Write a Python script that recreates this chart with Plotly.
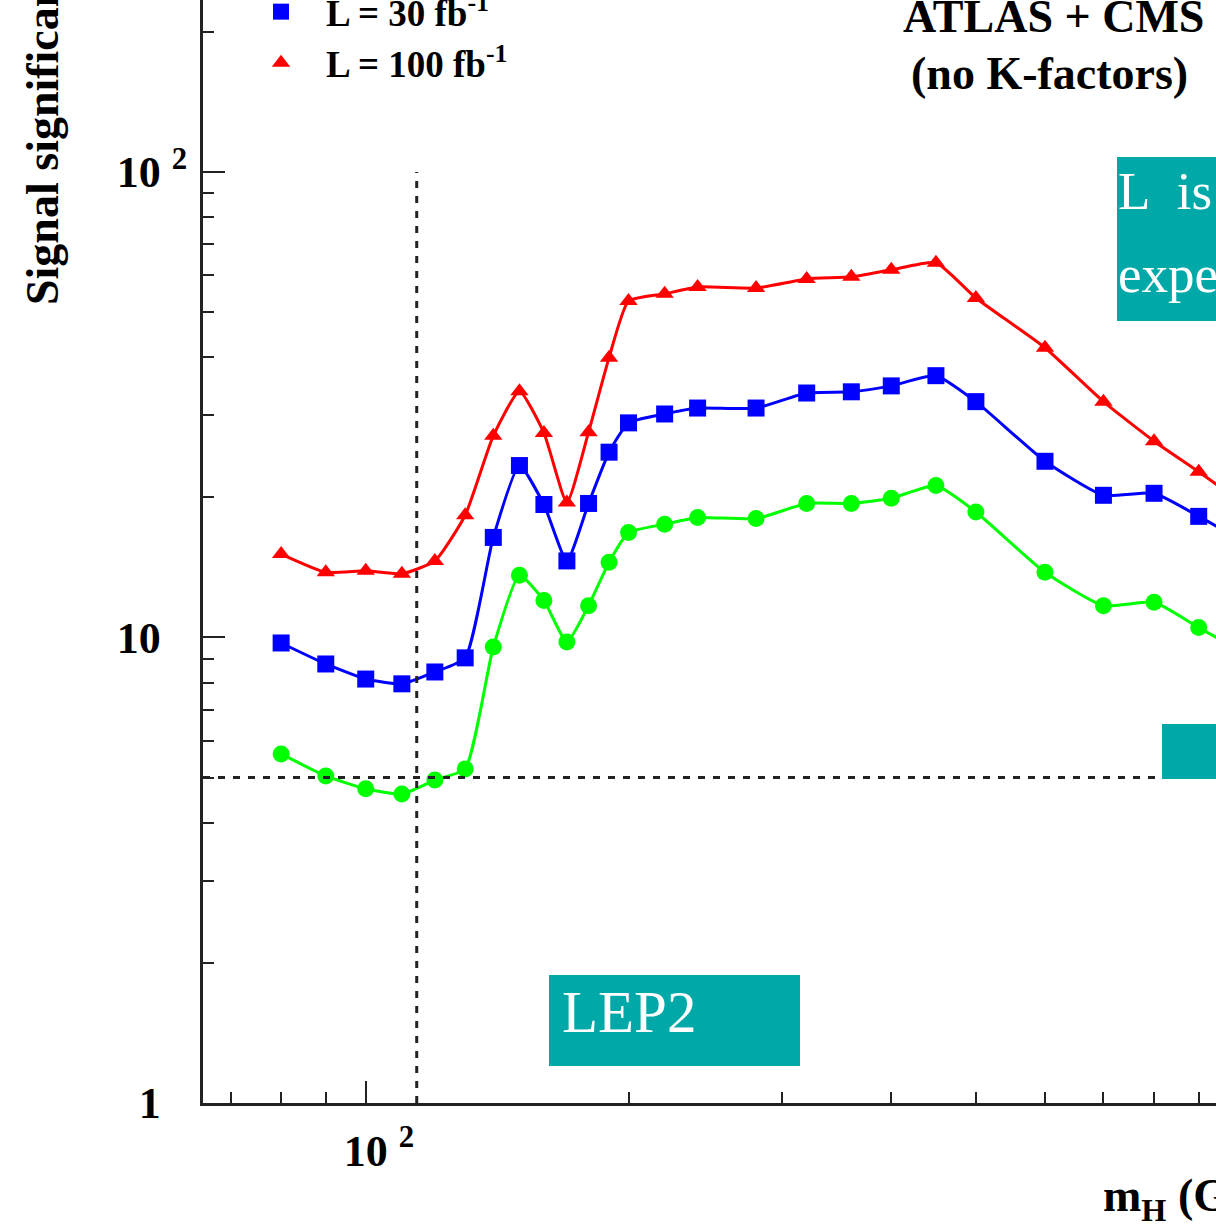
import math
import plotly.graph_objects as go

# ---------------- data ----------------
mh = [80, 90, 100, 110, 120, 130, 140, 150, 160, 170, 180, 190, 200, 220, 240,
      280, 320, 360, 400, 450, 500, 600, 700, 800, 900, 1000]
sig_100 = [15.1, 13.8, 13.9, 13.7, 14.6, 18.3, 27.1, 33.8, 27.5, 19.5, 27.6, 39.9,
           52.8, 54.7, 56.6, 56.3, 58.9, 59.5, 61.6, 63.8, 53.6, 41.9, 32.1, 26.4, 22.7, 19.7]
sig_30 = [9.73, 8.77, 8.14, 7.95, 8.43, 9.04, 16.4, 23.4, 19.3, 14.6, 19.4, 25.0,
          28.9, 30.2, 31.1, 31.1, 33.5, 33.7, 34.7, 36.5, 32.1, 23.9, 20.2, 20.4, 18.2, 16.3]
sig_10 = [5.62, 5.04, 4.73, 4.61, 4.94, 5.22, 9.54, 13.6, 12.0, 9.78, 11.7, 14.5,
          16.8, 17.5, 18.1, 18.0, 19.4, 19.4, 19.9, 21.2, 18.6, 13.8, 11.7, 11.9, 10.5, 9.4]
series_names = ["L = 10 fb<sup>-1</sup>", "L = 30 fb<sup>-1</sup>", "L = 100 fb<sup>-1</sup>"]

lep2_limit = 114.4          # GeV
discovery_level = 5.0       # sigma
x_range = [65.1, 942.0]
y_range = [1.0, 234.0]

y_tickvals = [1, 10, 100]
y_minor = [2, 3, 4, 5, 6, 7, 8, 9, 20, 30, 40, 50, 60, 70, 80, 90, 200]
x_tickvals = [100, 1000]
x_minor = [70, 80, 90, 200, 300, 400, 500, 600, 700, 800, 900]

# ---------------- style ----------------
SERIF = "Liberation Serif"
AX = "#222222"
TEAL = "#00A8A8"
INV = "<span style='color:rgba(255,255,255,0)'>"

fig = go.Figure()

styles = [
    dict(color="#00FF00", symbol="circle", size=17),
    dict(color="#0000FF", symbol="square", size=17),
    dict(color="#FF0000", symbol="triangle-up", size=16),
]
for vals, st in zip([sig_10, sig_30, sig_100], styles):
    fig.add_trace(go.Scatter(
        x=mh, y=vals, mode="lines+markers",
        line=dict(color=st["color"], width=3, shape="spline", smoothing=0.5),
        marker=dict(color=st["color"], symbol=st["symbol"], size=st["size"]),
        showlegend=False, cliponaxis=True))

# reference lines
fig.add_trace(go.Scatter(x=[lep2_limit, lep2_limit], y=[y_range[0], 100], mode="lines",
                         line=dict(color=AX, width=3, dash="7px,8px"), showlegend=False))
fig.add_trace(go.Scatter(x=x_range, y=[discovery_level, discovery_level], mode="lines",
                         line=dict(color=AX, width=3, dash="7px,8px"), showlegend=False))

# legend entries (marker only, like ROOT)
for name, st in zip(series_names, styles):
    fig.add_trace(go.Scatter(x=[None], y=[None], mode="markers", name=name,
                             marker=dict(color=st["color"], symbol=st["symbol"], size=st["size"])))

W, H = 1216, 1229
L, B = 203, 126
PW, PH = W - L, H - B


def px(xp):
    return (xp - L) / PW


def py(yp):
    return (PH - yp) / PH


shapes = [
    dict(type="rect", xref="paper", yref="paper", x0=px(1117), x1=px(1260), y0=py(321), y1=py(157),
         fillcolor=TEAL, line=dict(width=0)),
    dict(type="rect", xref="paper", yref="paper", x0=px(1162), x1=px(1260), y0=py(779), y1=py(724),
         fillcolor=TEAL, line=dict(width=0)),
    dict(type="rect", xref="paper", yref="paper", x0=px(549), x1=px(800), y0=py(1066), y1=py(975),
         fillcolor=TEAL, line=dict(width=0)),
]

annotations = [
    dict(text="ATLAS + CMS", x=px(1053), y=py(16), xref="paper", yref="paper", showarrow=False,
         xanchor="center", yanchor="middle", font=dict(family=SERIF, size=46, color="black", weight="bold")),
    dict(text="(no K-factors)", x=px(1049), y=py(73), xref="paper", yref="paper", showarrow=False,
         xanchor="center", yanchor="middle", font=dict(family=SERIF, size=46, color="black", weight="bold")),
    dict(text="L&nbsp; is", x=px(1116), y=py(191), xref="paper", yref="paper", showarrow=False,
         xanchor="left", yanchor="middle", font=dict(family=SERIF, size=53, color="white")),
    dict(text="expe", x=px(1116), y=py(274), xref="paper", yref="paper", showarrow=False,
         xanchor="left", yanchor="middle", font=dict(family=SERIF, size=53, color="white")),
    dict(text="LEP2", x=px(560), y=py(1012), xref="paper", yref="paper", showarrow=False,
         xanchor="left", yanchor="middle", font=dict(family=SERIF, size=59, color="white")),
    dict(text="Signal significance", x=px(42), y=py(307), xref="paper", yref="paper", showarrow=False,
         textangle=-90, xanchor="center", yanchor="bottom",
         font=dict(family=SERIF, size=46, color="black", weight="bold")),
    dict(text="m<sub>H</sub> (GeV)", x=px(1101), y=py(1199), xref="paper", yref="paper", showarrow=False,
         xanchor="left", yanchor="middle", font=dict(family=SERIF, size=46, color="black", weight="bold")),
]

y_ticktext = ["1" + INV + " <sup>2</sup></span>", "10" + INV + " <sup>2</sup></span>", "10 <sup>2</sup>"]
x_ticktext = [INV + "<sup>2</sup> </span>10 <sup>2</sup>", INV + "<sup>3</sup> </span>10 <sup>3</sup>"]

tickfont = dict(family=SERIF, size=44, color="black", weight="bold")

fig.update_layout(
    width=W, height=H,
    margin=dict(l=L, r=0, t=0, b=B, pad=0, autoexpand=False),
    paper_bgcolor="white", plot_bgcolor="white",
    shapes=shapes, annotations=annotations,
    showlegend=True,
    legend=dict(x=px(236), y=1 + 70 / PH, xanchor="left", yanchor="top",
                bgcolor="rgba(0,0,0,0)", borderwidth=0, itemwidth=80,
                font=dict(family=SERIF, size=37, color="black", weight="bold")),
    xaxis=dict(type="log", range=[math.log10(x_range[0]), math.log10(x_range[1])],
               showgrid=False, zeroline=False, showline=True, linecolor=AX, linewidth=3,
               ticks="inside", ticklen=22, tickwidth=2, tickcolor=AX, ticklabelstandoff=7,
               tickmode="array", tickvals=x_tickvals, ticktext=x_ticktext, tickfont=tickfont,
               minor=dict(ticks="inside", ticklen=11, tickwidth=2, tickcolor=AX,
                          tickmode="array", tickvals=x_minor, showgrid=False)),
    yaxis=dict(type="log", range=[math.log10(y_range[0]), math.log10(y_range[1])],
               showgrid=False, zeroline=False, showline=True, linecolor=AX, linewidth=3,
               ticks="inside", ticklen=22, tickwidth=2, tickcolor=AX, ticklabelstandoff=4,
               tickmode="array", tickvals=y_tickvals, ticktext=y_ticktext, tickfont=tickfont,
               minor=dict(ticks="inside", ticklen=11, tickwidth=2, tickcolor=AX,
                          tickmode="array", tickvals=y_minor, showgrid=False)),
)

fig.write_html("out.html")
